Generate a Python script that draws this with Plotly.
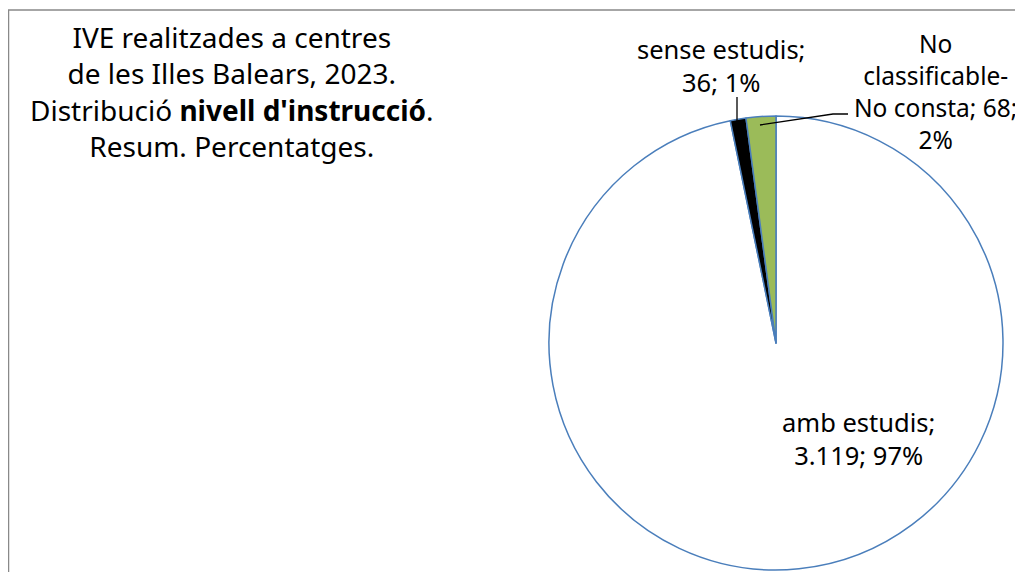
import plotly.graph_objects as go

categories = ["amb estudis", "sense estudis", "No classificable-No consta"]
values = [3119, 36, 68]
colors = ["#FFFFFF", "#000000", "#9BBB59"]

W, H = 1023, 572
OFF = 8  # page body margin
total = sum(values)

def fmt_int(v):
    return f"{v:,}".replace(",", ".")

pct = [round(v / total * 100) for v in values]

def px(x):
    return (x - OFF) / W

def py(y):
    return 1 - (y - OFF) / H

fig = go.Figure()
cx, cy, r = 776, 343, 227
fig.add_trace(go.Pie(
    labels=categories,
    values=values,
    sort=False,
    direction="clockwise",
    rotation=0,
    marker=dict(colors=colors, line=dict(color="#4A7EBB", width=1.5)),
    textinfo="none",
    hoverinfo="label+value+percent",
    showlegend=False,
    domain=dict(x=[px(cx - r), px(cx + r)], y=[py(cy + r), py(cy - r)]),
))

font = dict(family="Noto Sans, Open Sans, sans-serif", color="#000000")

annotations = [
    dict(x=px(232), y=py(91), text="IVE realitzades a centres<br>de les Illes Balears, 2023.<br>Distribució <b>nivell d'instrucció</b>.<br>Resum. Percentatges.",
         font=dict(size=28, **font)),
    dict(x=px(858), y=py(438), text=f"{categories[0]};<br>{fmt_int(values[0])}; {pct[0]}%",
         font=dict(size=25.5, **font)),
    dict(x=px(721), y=py(65), text=f"{categories[1]};<br>{fmt_int(values[1])}; {pct[1]}%",
         font=dict(size=25.5, **font)),
    dict(x=px(935), y=py(91), text=f"No<br>classificable-<br>No consta; {fmt_int(values[2])};<br>{pct[2]}%",
         font=dict(size=24.5, **font)),
]
for a in annotations:
    a.update(xref="paper", yref="paper", showarrow=False, align="center", xanchor="center", yanchor="middle")

shapes = [
    dict(type="rect", xref="paper", yref="paper", x0=px(8.5), y0=py(10), x1=px(1045), y1=py(600),
         line=dict(color="#898989", width=1.5), fillcolor="rgba(0,0,0,0)", layer="below"),
    dict(type="line", xref="paper", yref="paper", x0=px(737), y0=py(128), x1=px(737), y1=py(97),
         line=dict(color="#000000", width=1.3)),
    dict(type="path", xref="paper", yref="paper",
         path=f"M {px(760)} {py(125)} L {px(833)} {py(114)} L {px(848)} {py(114)}",
         line=dict(color="#000000", width=1.3)),
]

fig.update_layout(
    width=W, height=H,
    margin=dict(l=0, r=0, t=0, b=0),
    paper_bgcolor="#FFFFFF",
    plot_bgcolor="#FFFFFF",
    annotations=annotations,
    shapes=shapes,
)

fig.write_html("out.html")
